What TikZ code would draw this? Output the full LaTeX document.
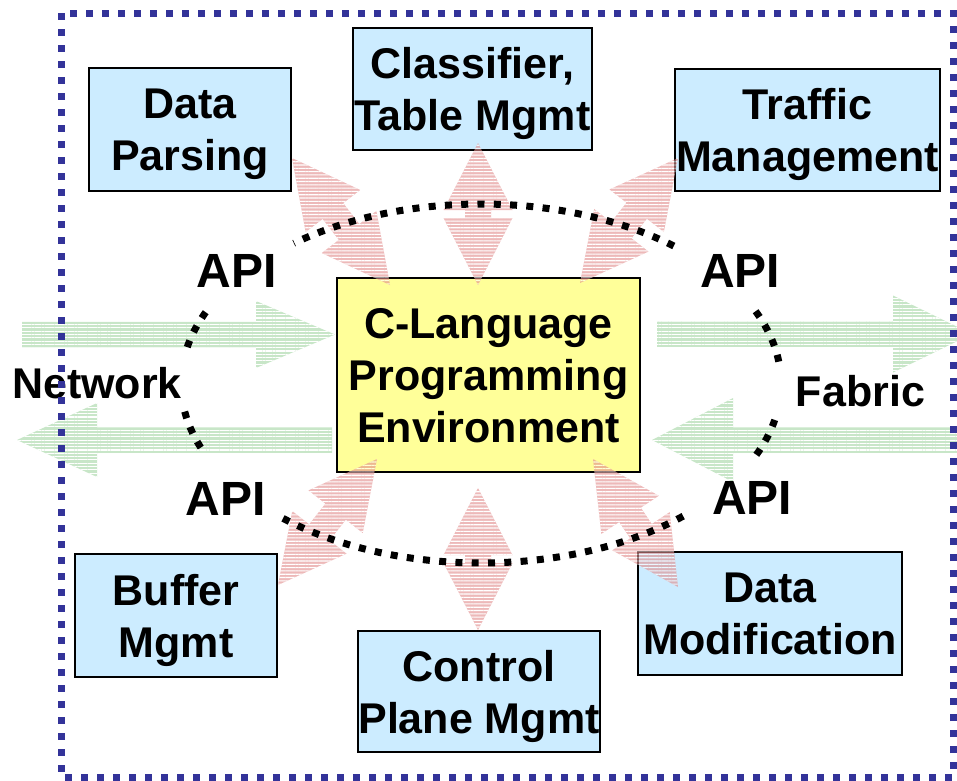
\documentclass[tikz,border=0pt]{standalone}
\usepackage{fontspec}
\setmainfont{Liberation Sans}
\usetikzlibrary{calc,patterns.meta}
\definecolor{boxblue}{RGB}{204,236,255}
\definecolor{boxyellow}{RGB}{255,255,153}
\definecolor{arrpink}{RGB}{225,138,138}
\definecolor{arrgreen}{RGB}{200,230,200}
\definecolor{borderblue}{RGB}{51,51,153}
\newcommand\dblarr[2]{%
  \path[pinkarr] (#1)
   -- ($(#1)!67pt!(#2)!34.5pt!90:(#2)$)
   -- ($(#1)!67pt!(#2)!13pt!90:(#2)$)
   -- ($(#2)!67pt!(#1)!13pt!-90:(#1)$)
   -- ($(#2)!67pt!(#1)!34.5pt!-90:(#1)$)
   -- (#2)
   -- ($(#2)!67pt!(#1)!34.5pt!90:(#1)$)
   -- ($(#2)!67pt!(#1)!13pt!90:(#1)$)
   -- ($(#1)!67pt!(#2)!13pt!-90:(#2)$)
   -- ($(#1)!67pt!(#2)!34.5pt!-90:(#2)$)
   -- cycle;}
\newcommand\sarr[4]{%
  \path[greenarr] ($(#1)!12.75pt!90:(#2)$)
   -- ($(#2)!#3!(#1)!12.75pt!-90:(#1)$)
   -- ($(#2)!#3!(#1)!#4!-90:(#1)$)
   -- (#2)
   -- ($(#2)!#3!(#1)!#4!90:(#1)$)
   -- ($(#2)!#3!(#1)!12.75pt!90:(#1)$)
   -- ($(#1)!12.75pt!-90:(#2)$)
   -- cycle;}
\begin{document}
\begin{tikzpicture}[x=1pt,y=-1pt,
  box/.style={draw=black, line width=2pt, fill=boxblue, inner sep=0pt, align=center,
    text depth=0pt, font=\fontsize{43}{52}\selectfont\bfseries},
  centerbox/.style={box, fill=boxyellow},
  lbl/.style={inner sep=0pt, font=\fontsize{43}{52}\selectfont\bfseries},
  apilbl/.style={inner sep=0pt, font=\fontsize{48}{52}\selectfont\bfseries},
  pinkarr/.style={fill=arrpink, postaction={pattern={Lines[distance=3.3pt,line width=1.1pt]}, pattern color=white}},
  greenarr/.style={fill=arrgreen, postaction={pattern={Lines[distance=3.3pt,line width=1.1pt]}, pattern color=white}},
  apidots/.style={draw=black, line width=7pt, dash pattern=on 7pt off 9.3pt},
  frame/.style={draw=borderblue, line width=7pt, dash pattern=on 7pt off 9pt}]
\useasboundingbox (0,0) rectangle (957,780);

% green network / fabric arrows
\coordinate (g1s) at (22,334.5);  \coordinate (g1t) at (335,334.5);
\coordinate (g2s) at (332,440);   \coordinate (g2t) at (17,440);
\coordinate (g3s) at (657,334);   \coordinate (g3t) at (972,334);
\coordinate (g4s) at (965,440);   \coordinate (g4t) at (652,440);
\sarr{g1s}{g1t}{79pt}{33.5pt}
\sarr{g2s}{g2t}{80pt}{37pt}
\sarr{g3s}{g3t}{79pt}{38.5pt}
\sarr{g4s}{g4t}{81pt}{42pt}

% boxes
\node[box, minimum width=202pt, minimum height=123pt] (dp) at (190,129.5) {Data\\Parsing};
\node[box, minimum width=239pt, minimum height=122pt] (cl) at (472.5,89) {Classifier,\\Table Mgmt};
\node[box, minimum width=265pt, minimum height=122pt] (tm) at (807.5,130) {Traffic\\Management};
\node[centerbox, minimum width=303pt, minimum height=194pt] (ce) at (488.5,375) {C-Language\\Programming\\Environment};
\node[box, minimum width=202pt, minimum height=123pt] (bm) at (176,615.5) {Buffer\\Mgmt};
\node[box, minimum width=238pt, minimum height=121pt] (cp) at (479,691.5) {Control\\Plane Mgmt};
\node[box, minimum width=264pt, minimum height=123pt] (dm) at (770,613.5) {Data\\Modification};

% pink API arrows
\coordinate (a1) at (292,158); \coordinate (b1) at (390,285);
\coordinate (a2) at (478,143); \coordinate (b2) at (478,285);
\coordinate (a3) at (678,158); \coordinate (b3) at (580,283);
\coordinate (a4) at (377,459); \coordinate (b4) at (278,585);
\coordinate (a5) at (478,488); \coordinate (b5) at (478,630);
\coordinate (a6) at (593,459); \coordinate (b6) at (678,587);
\begin{scope}[transparency group, opacity=0.6]
\dblarr{a1}{b1}
\dblarr{a2}{b2}
\dblarr{a3}{b3}
\dblarr{a4}{b4}
\dblarr{a5}{b5}
\dblarr{a6}{b6}
\end{scope}

% dotted API ellipse
\coordinate (ec) at (481,383.5);
\foreach \a/\b in {7/24.9, 50/128.6, 156.6/171, 189/203.4, 228.7/313.1, 336.6/351}
  \draw[apidots] (ec) ++(-\a:300 and 179.5) arc[start angle=-\a, end angle=-\b, x radius=300, y radius=179.5];

% labels
\node[apilbl] (apitl) at (237,271) {API};
\node[apilbl] (apitr) at (740,271) {API};
\node[apilbl] (apibl) at (226,499) {API};
\node[apilbl] (apibr) at (752,498) {API};
\node[lbl] (net) at (97,383) {Network};
\node[lbl] (fab) at (860.5,391.5) {Fabric};

% frame
\draw[frame] (61,13) rectangle (953,777);
\end{tikzpicture}
\end{document}
